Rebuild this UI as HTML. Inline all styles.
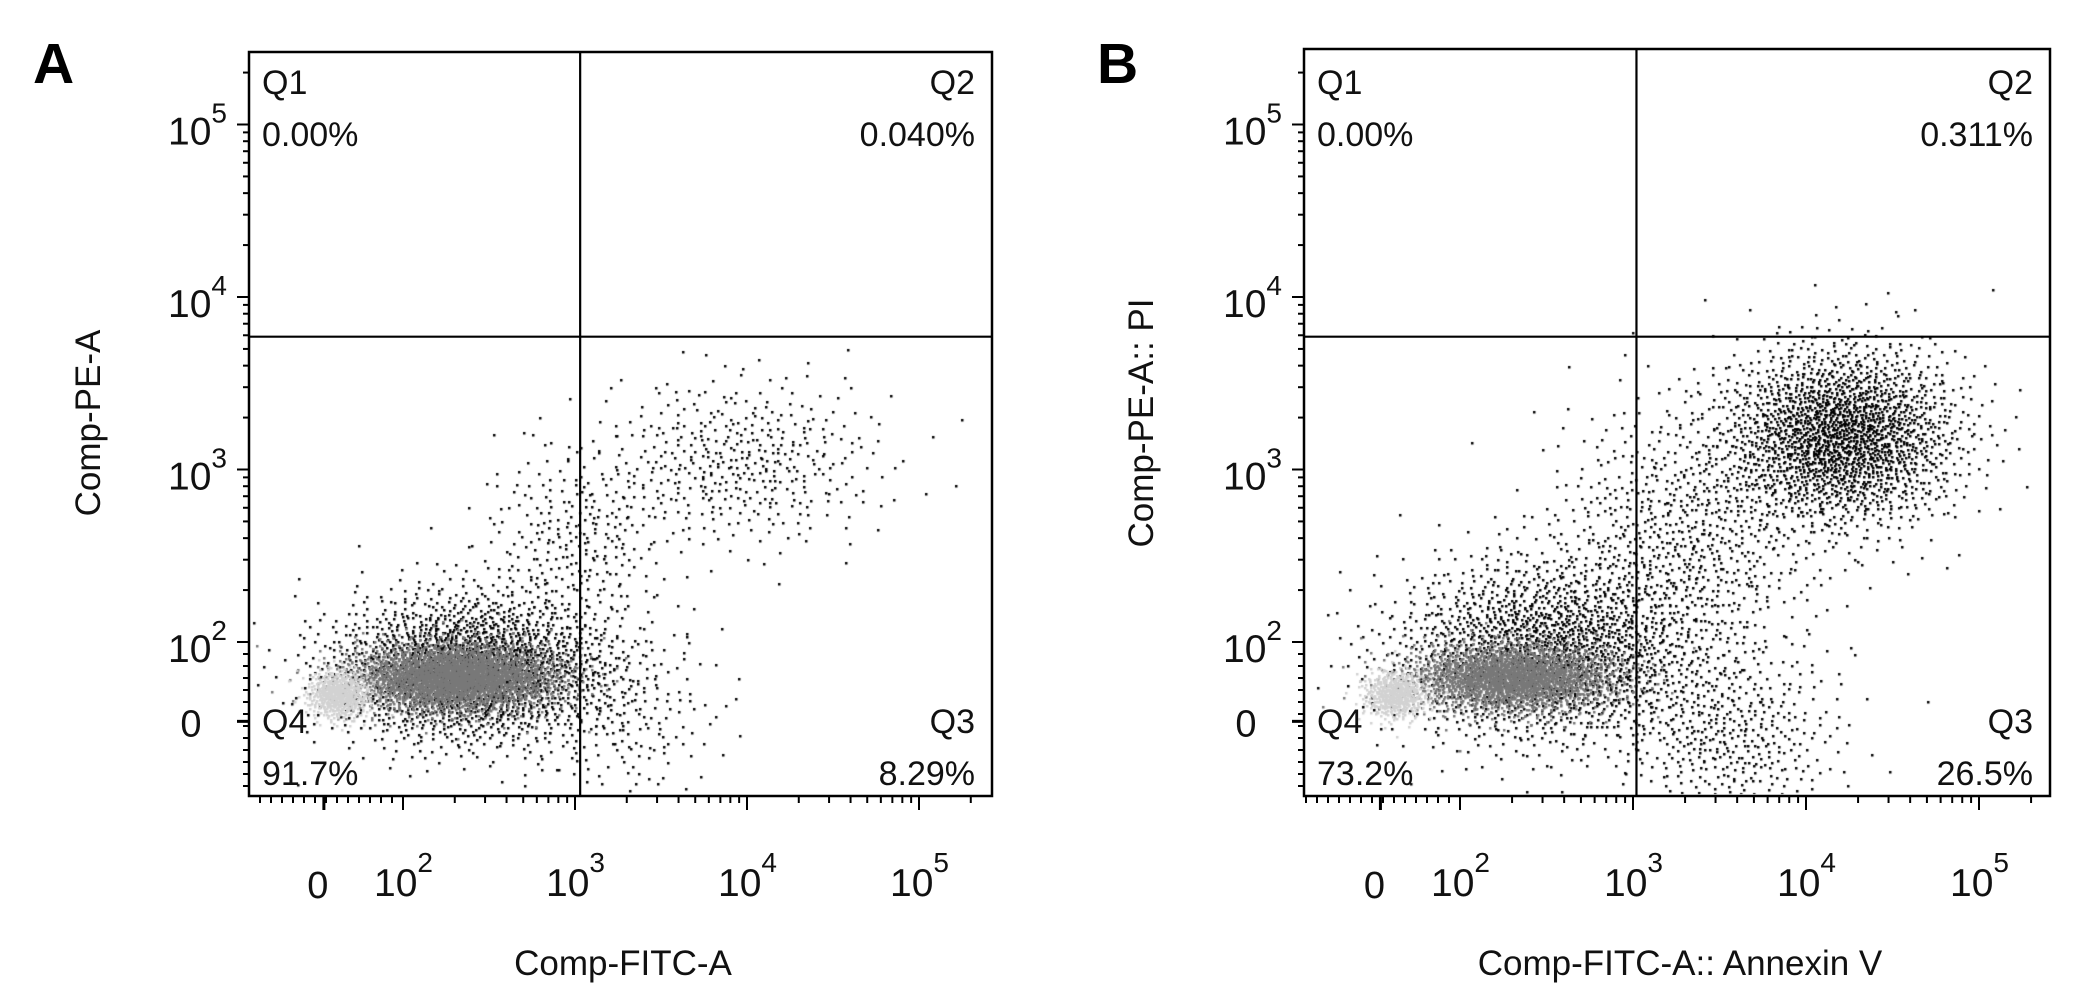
<!DOCTYPE html>
<html><head><meta charset="utf-8">
<style>
html,body{margin:0;padding:0;background:#fff;}
body{width:2083px;height:984px;position:relative;overflow:hidden;font-family:"Liberation Sans",Arial,sans-serif;}
svg{position:absolute;left:0;top:0;}
canvas{position:absolute;left:0;top:0;}
</style></head>
<body>
<canvas id="dots" width="2083" height="984"></canvas>
<svg id="chart" width="2083" height="984"></svg>
<script>
// ---- data ----
const panelIds = ["A","B"];
const xTitles = ["Comp-FITC-A","Comp-FITC-A:: Annexin V"];
const yTitles = ["Comp-PE-A","Comp-PE-A:: PI"];
const quadNames = ["Q1","Q2","Q3","Q4"];
const quadA = ["0.00%","0.040%","8.29%","91.7%"];
const quadB = ["0.00%","0.311%","26.5%","73.2%"];
const xTickDecades = [2,3,4,5];
const yTickDecades = [2,3,4,5];
const zeroDecade = 1.54;
const gateXDecade = [3.03,3.02];
const gateYDecade = [3.77,3.77];
// populations: [centerX(decade), centerY(decade), spreadX, spreadY, count, shade]
const popsA = [
 [2.4,1.85,0.42,0.22,2000,0],
 [2.3,1.8,0.30,0.10,2800,120],
 [1.62,1.7,0.09,0.07,550,210],
 [3.0,2.6,0.28,0.28,260,0],
 [3.95,3.05,0.42,0.25,420,0],
 [3.3,1.55,0.28,0.28,170,0]
];
const popsB = [
 [2.5,1.95,0.45,0.27,1800,0],
 [2.3,1.8,0.30,0.10,2200,120],
 [1.62,1.7,0.09,0.07,500,210],
 [3.3,2.6,0.40,0.40,750,0],
 [4.2,3.2,0.34,0.26,2000,0],
 [3.55,1.45,0.33,0.26,420,0]
];
// ---- layout ----
const panels = [
 {id:"A",L:249,T:52,R:992,B:796,x2:403,dx:172,y2:642,dy:172.5,quad:quadA,pops:popsA,letterX:33,titleX:623,ytX:100},
 {id:"B",L:1304,T:49,R:2050,B:796,x2:1460,dx:173,y2:642,dy:172.5,quad:quadB,pops:popsB,letterX:1097,titleX:1680,ytX:1153}
];
const NS="http://www.w3.org/2000/svg";
const svg=document.getElementById('chart');
function mk(tag,attrs,parent){const e=document.createElementNS(NS,tag);for(const k in attrs)e.setAttribute(k,attrs[k]);(parent||svg).appendChild(e);return e;}
function halton(i,b){let f=1,r=0;while(i>0){f/=b;r+=f*(i%b);i=Math.floor(i/b);}return r;}
const ctx=document.getElementById('dots').getContext('2d');
let seedOffset=1;
panels.forEach((p,pi)=>{
 const xs=d=>p.x2+(d-2)*p.dx;
 const ys=d=>p.y2-(d-2)*p.dy;
 const g=mk('g',{});
 
 
 ctx.save();ctx.beginPath();ctx.rect(p.L+2,p.T+2,p.R-p.L-4,p.B-p.T-4);ctx.clip();
 p.pops.forEach(pop=>{
  const [cx,cy,sx,sy,n,shade]=pop;
  ctx.fillStyle=shade===0?'#000':'rgb('+shade+','+shade+','+shade+')';
  for(let i=0;i<n;i++){
   const k=seedOffset+i;
   const u1=Math.max(halton(k,2),1e-6),u2=halton(k,3);
   const r=Math.sqrt(-2*Math.log(u1));
   const gx=r*Math.cos(2*Math.PI*u2),gy=r*Math.sin(2*Math.PI*u2);
   const px=xs(cx+gx*sx), py=ys(cy+gy*sy);
   ctx.fillRect(Math.round(px),Math.round(py),2.5,2.5);
  }
  seedOffset+=n+17;
 });
 ctx.restore();
 const box=mk('rect',{x:p.L,y:p.T,width:p.R-p.L,height:p.B-p.T,fill:'none',stroke:'#000','stroke-width':2.5},g);
 
 
 const gx=xs(gateXDecade[pi]), gy=ys(gateYDecade[pi]);
 const vl=mk('line',{x1:gx,y1:p.T,x2:gx,y2:p.B,stroke:'#000','stroke-width':2.2},g);
 
 
 const hl=mk('line',{x1:p.L,y1:gy,x2:p.R,y2:gy,stroke:'#000','stroke-width':2.2},g);
 
 
 for(let d=2;d<=5;d++){for(let m=1;m<10;m++){const v=d+Math.log10(m);const y=ys(v);if(y<p.T)break;
  const t=mk('line',{x1:p.L,y1:y,x2:p.L-(m===1?12:6),y2:y,stroke:'#000','stroke-width':2},g);
  }}
 for(let y=ys(2)+12;y<p.B;y+=12){const t=mk('line',{x1:p.L,y1:y,x2:p.L-6,y2:y,stroke:'#000','stroke-width':2},g);
  }
 const yz=ys(zeroDecade);
 const zt=mk('line',{x1:p.L,y1:yz,x2:p.L-12,y2:yz,stroke:'#000','stroke-width':3},g);
 
 for(let d=2;d<=5;d++){for(let m=1;m<10;m++){const v=d+Math.log10(m);const x=xs(v);if(x>p.R)break;
  const t=mk('line',{x1:x,y1:p.B,x2:x,y2:p.B+(m===1?14:7),stroke:'#000','stroke-width':2},g);
  }}
 for(let x=xs(2)-11;x>p.L;x-=11){const t=mk('line',{x1:x,y1:p.B,x2:x,y2:p.B+7,stroke:'#000','stroke-width':2},g);
  }
 const xz=xs(zeroDecade);
 const zx=mk('line',{x1:xz,y1:p.B,x2:xz,y2:p.B+14,stroke:'#000','stroke-width':3},g);
 
 yTickDecades.forEach(d=>{const t=mk('text',{x:p.L-22,y:ys(d)+20,'text-anchor':'end','font-size':39,fill:'#111'},g);
  
  t.innerHTML='10<tspan dy="-22" font-size="28">'+d+'</tspan>';});
 const y0=mk('text',{x:p.L-58,y:yz+15,'text-anchor':'middle','font-size':38,fill:'#111'},g);
 y0.textContent='0';
 xTickDecades.forEach(d=>{const t=mk('text',{x:xs(d)-29,y:896,'font-size':39,fill:'#111'},g);
  
  t.innerHTML='10<tspan dy="-24" font-size="28">'+d+'</tspan>';});
 const x0=mk('text',{x:xz-6,y:898,'text-anchor':'middle','font-size':38,fill:'#111'},g);
 x0.textContent='0';
 const qpos=[[p.L+13,94,'start'],[p.R-17,94,'end'],[p.R-17,733,'end'],[p.L+13,733,'start']];
 quadNames.forEach((q,i)=>{const [x,y,a]=qpos[i];
  const t1=mk('text',{x:x,y:y,'text-anchor':a,'font-size':34,fill:'#111'},g);t1.textContent=q;
  
  const t2=mk('text',{x:x,y:y+52,'text-anchor':a,'font-size':34,fill:'#111'},g);t2.textContent=p.quad[i];
  });
 const xt=mk('text',{x:p.titleX,y:975,'text-anchor':'middle','font-size':35,fill:'#111'},g);
 xt.textContent=xTitles[pi];
 const yt=mk('text',{x:p.ytX,y:423,'text-anchor':'middle','font-size':35,fill:'#111',transform:'rotate(-90 '+(p.ytX)+' 423)'},g);
 yt.textContent=yTitles[pi];
 const lt=mk('text',{x:p.letterX,y:83,'font-size':57,'font-weight':'bold',fill:'#000'},g);
 lt.textContent=panelIds[pi];
});
</script>
</body></html>
